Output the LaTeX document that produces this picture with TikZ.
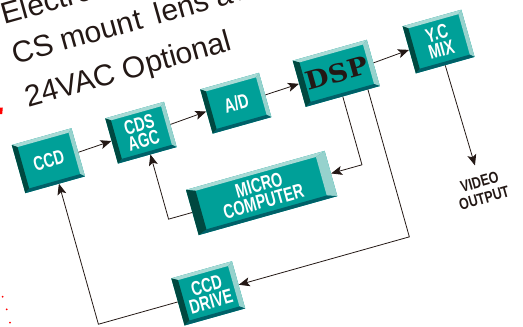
\documentclass[tikz,border=0pt]{standalone}
\usepackage{fontspec}
\setmainfont{Liberation Sans}
\newfontfamily\boxfont[FakeStretch=0.72]{Liberation Sans}
\newfontfamily\outfont[FakeStretch=0.78]{Liberation Sans}
\newfontfamily\dspfont[FakeStretch=1.08]{DejaVu Serif}
\usetikzlibrary{arrows.meta}
\definecolor{bvface}{RGB}{0,160,152}
\definecolor{bvtop}{RGB}{168,218,213}
\definecolor{bvright}{RGB}{150,210,205}
\definecolor{bvleft}{RGB}{0,72,64}
\definecolor{bvbottom}{RGB}{0,96,104}
\definecolor{ink}{RGB}{35,24,21}
\tikzset{
  bvlabel/.style={text=white, font=\boxfont\bfseries\fontsize{20}{17}\selectfont, align=center, inner sep=0pt},
  dsplabel/.style={text=ink, font=\dspfont\bfseries\fontsize{25}{26}\selectfont, inner sep=0pt},
  toptext/.style={text=ink, font=\fontsize{30}{30}\selectfont, anchor=base west, inner sep=0pt},
  outlabel/.style={text=ink, font=\outfont\bfseries\fontsize{16}{17}\selectfont, align=center, inner xsep=0pt, inner ysep=11pt},
  conn/.style={draw=ink, line width=0.8pt, -{Stealth[length=11pt,width=9pt,inset=2.5pt]}},
  hitbox/.style={inner sep=0pt, draw=none}
}
% #1 name, #2 cx, #3 cy, #4 w, #5 h, #6 left bevel, #7 right bevel, #8 label style, #9 text
\newcommand\bevbox[9]{%
  \pgfmathsetmacro\xa{#2-#4/2}\pgfmathsetmacro\xb{#2+#4/2}%
  \pgfmathsetmacro\ya{#3-#5/2}\pgfmathsetmacro\yb{#3+#5/2}%
  \pgfmathsetmacro\xc{\xa+#6}\pgfmathsetmacro\xd{\xb-#7}%
  \pgfmathsetmacro\yc{\ya+3.5}\pgfmathsetmacro\yd{\yb-3.5}%
  \pgfmathsetmacro\tx{#2+(#6-#7)/2}%
  \fill[bvface] (\xa,\ya) rectangle (\xb,\yb);
  \fill[bvtop] (\xa,\yb) -- (\xb,\yb) -- (\xd,\yd) -- (\xc,\yd) -- cycle;
  \fill[bvright] (\xb,\yb) -- (\xb,\ya) -- (\xd,\yc) -- (\xd,\yd) -- cycle;
  \fill[bvbottom] (\xa,\ya) -- (\xb,\ya) -- (\xd,\yc) -- (\xc,\yc) -- cycle;
  \fill[bvleft] (\xa,\ya) -- (\xa,\yb) -- (\xc,\yd) -- (\xc,\yc) -- cycle;
  \node[hitbox, minimum width=#4pt, minimum height=#5pt] (#1) at (#2,#3) {};
  \node[#8] (#1t) at (\tx,#3) {#9};
}
\begin{document}
\begin{tikzpicture}[x=1pt,y=1pt]
\useasboundingbox (0,0) rectangle (523,-327);
\clip (0,0) rectangle (523,-327);
% red marks at the left edge
\fill[red] (0,-107.5) -- (2.8,-107.5) -- (2.2,-114) -- (0,-114) -- cycle;
\fill[red] (2.7,-296.7) circle (1pt);
\fill[red] (6.7,-309.3) circle (1pt);
\fill[red] (10,-322.7) circle (1pt);
\begin{scope}[rotate=15.7, transform shape]
  \node[toptext] (t1) at (-2.5,-25) {Electro};
  \node[toptext] (t2) at (-2.5,-66.2) {CS mount\hspace{6pt} lens ava};
  \node[toptext] (t3) at (-2,-111.1) {24VAC Optional};

  \bevbox{ccd}{3.1}{-167.8}{62}{50}{5}{4}{bvlabel}{CCD}
  \bevbox{cds}{99.8}{-165.9}{61}{47}{5}{4}{bvlabel}{CDS\\AGC}
  \bevbox{ad}{199.1}{-163.2}{61}{46}{5}{4}{bvlabel}{A/D}
  \bevbox{dsp}{303.9}{-161.6}{77}{48}{6}{5}{dsplabel}{DSP}
  \bevbox{yc}{411}{-158.7}{61}{49}{5}{4}{bvlabel}{Y.C\\MIX}
  \bevbox{micro}{199.7}{-256.6}{144}{47}{9}{10}{bvlabel}{MICRO\\COMPUTER}
  \bevbox{drive}{121.1}{-338.8}{63}{49}{6}{5}{bvlabel}{CCD\\DRIVE}

  \node[outlabel] (vid) at (412.5,-313.2) {VIDEO\\OUTPUT};

  \coordinate (c1) at (303.9,-256.6);
  \coordinate (dspb) at (330,-185.6);
  \coordinate (c2) at (330,-338.8);
  \coordinate (c3) at (103,-256.6);
  \coordinate (cdsb) at (103,-189.4);
  \coordinate (c4) at (7,-338.8);
  \coordinate (ccdb) at (7,-192.8);

  \draw[conn] (ccd.east) -- (cds.west);
  \draw[conn] (cds.east) -- (ad.west);
  \draw[conn] (ad.east) -- (dsp.west);
  \draw[conn] (dsp.east) -- (yc.west);
  \draw[conn] (dsp.south) -- (c1) -- (micro.east);
  \draw[conn] (dspb) -- (c2) -- (drive.east);
  \draw[conn] (micro.west) -- (c3) -- (cdsb);
  \draw[conn] (drive.west) -- (c4) -- (ccdb);
  \draw[conn] (yc.south) -- (vid.north);
\end{scope}
\end{tikzpicture}
\end{document}
